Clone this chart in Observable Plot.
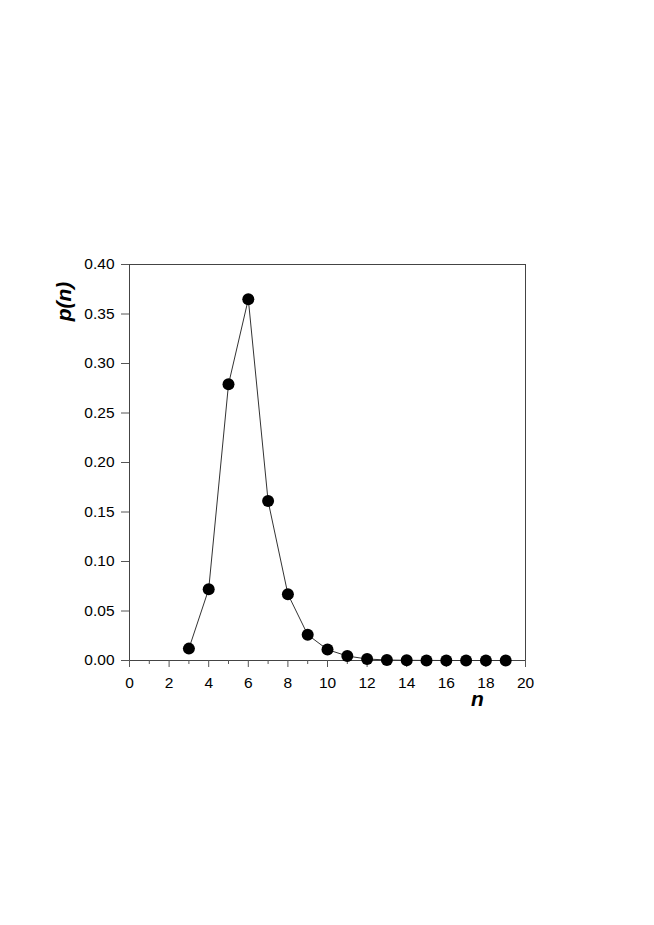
<!DOCTYPE html>
<html>
<head>
<meta charset="utf-8">
<script src="https://cdn.jsdelivr.net/npm/d3@7"></script>
<script src="https://cdn.jsdelivr.net/npm/@observablehq/plot@0.6"></script>
<style>
  html, body { margin: 0; padding: 0; background: #fff; }
</style>
</head>
<body>
<div id="chart"></div>
<script>
const nValues = [3, 4, 5, 6, 7, 8, 9, 10, 11, 12, 13, 14, 15, 16, 17, 18, 19];
const pValues = [0.012, 0.072, 0.279, 0.365, 0.161, 0.067, 0.026, 0.011, 0.0045, 0.0015, 0.0005, 0.0002, 0.0001, 0, 0, 0, 0];
const xMajorTicks = [0, 2, 4, 6, 8, 10, 12, 14, 16, 18, 20];
const xMinorTicks = [1, 3, 5, 7, 9, 11, 13, 15, 17, 19];
const yTicks = [0, 0.05, 0.10, 0.15, 0.20, 0.25, 0.30, 0.35, 0.40];
const xLabel = "n";
const yLabel = "p(n)";

const data = nValues.map((n, i) => ({n, p: pValues[i]}));

const chart = Plot.plot({
  width: 654,
  height: 925,
  marginLeft: 129,
  marginRight: 129,
  marginTop: 264,
  marginBottom: 265,
  style: {fontFamily: "Liberation Sans, Arial, sans-serif", fontSize: "15.5px", color: "#000", background: "#fff"},
  x: {domain: [0, 20]},
  y: {domain: [0, 0.4]},
  marks: [
    Plot.frame({stroke: "#444", strokeWidth: 1}),
    Plot.axisY(yTicks, {tickSize: 8, tickPadding: 7, tickFormat: d3.format(".2f"), label: null, fontSize: 15.5, stroke: "#555"}),
    Plot.axisX(xMajorTicks, {tickSize: 7, tickPadding: 9, label: null, fontSize: 15.5, stroke: "#555"}),
    Plot.axisX(xMinorTicks, {tickSize: 4, tickFormat: () => "", label: null, stroke: "#555"}),
    Plot.line(data, {x: "n", y: "p", stroke: "#333", strokeWidth: 1}),
    Plot.dot(data, {x: "n", y: "p", r: 6, fill: "#000", stroke: "none"}),
    Plot.text([yLabel], {frameAnchor: "left", dx: -65, dy: -161, rotate: -90, textAnchor: "middle", lineAnchor: "middle", text: d => d, fontSize: 21, fontWeight: "bold", fontStyle: "italic"}),
    Plot.text([xLabel], {frameAnchor: "bottom-left", dx: 348, dy: 39, textAnchor: "middle", lineAnchor: "middle", text: d => d, fontSize: 21, fontWeight: "bold", fontStyle: "italic"})
  ]
});
document.getElementById("chart").appendChild(chart);
</script>
</body>
</html>
